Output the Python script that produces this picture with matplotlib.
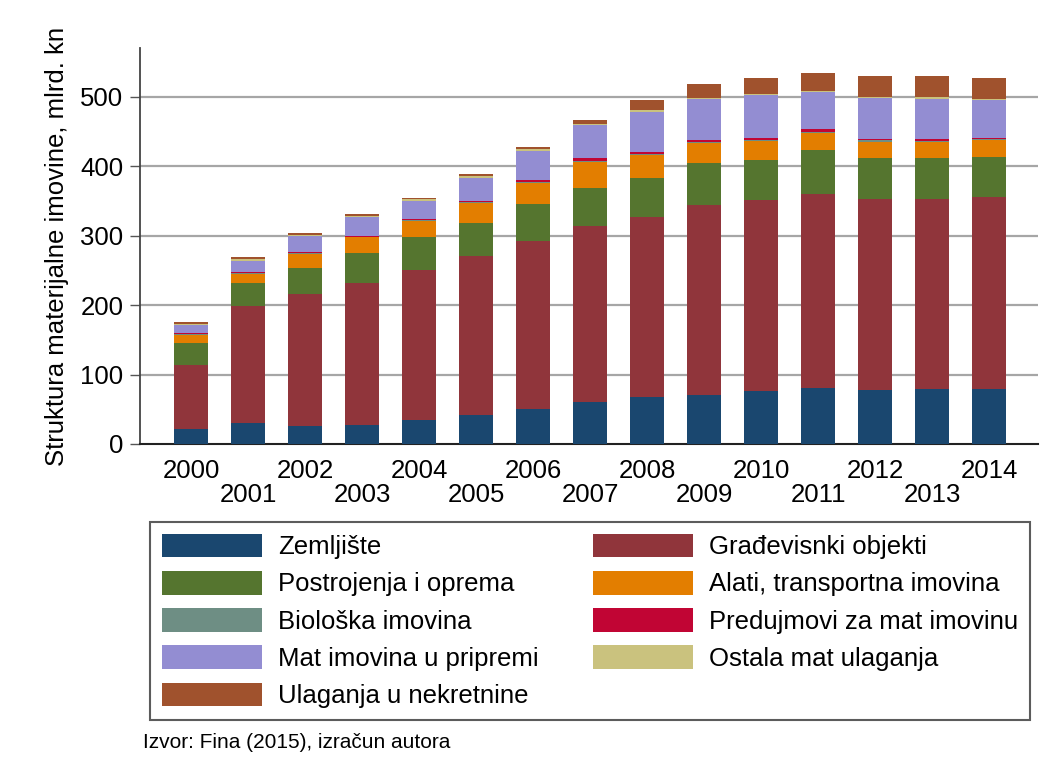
import matplotlib
matplotlib.use("Agg")
import matplotlib.pyplot as plt
import numpy as np

plt.rcParams["font.family"] = ["Liberation Sans", "DejaVu Sans"]

# Years and stacked components (mlrd. kn)
years = list(range(2000, 2015))

zemljiste = [22, 30, 26, 28, 34, 41, 50, 61, 67, 71, 76, 80, 78, 79, 79]
gradjevinski = [92, 168, 190, 203, 216, 229, 242, 253, 259, 273, 275, 280, 275, 274, 276]
postrojenja = [31, 34, 37, 44, 48, 48, 53, 55, 57, 60, 58, 63, 59, 59, 58]
alati = [12, 13, 21, 22.5, 23, 29.5, 31, 37.5, 33, 28.5, 27, 25, 23, 23, 25]
bioloska = [1, 1, 1, 1, 1, 1, 1, 1, 1.5, 1.5, 2, 1, 2.5, 1.5, 1]
predujmovi = [2, 1.5, 1, 1.5, 2, 1.5, 3, 4.5, 3, 3, 2, 4, 2, 2, 1.5]
u_pripremi = [11, 16, 23, 26.5, 25.5, 33, 41, 46.5, 57, 60, 62, 54, 58, 58, 54]
ostala = [2, 3, 2, 2, 2.5, 2.5, 3, 2.5, 3, 1.5, 2, 1.5, 2.5, 3, 2.5]
nekretnine = [3, 2.5, 2, 3, 2.5, 2.5, 4, 6, 14, 19, 23, 26, 29, 30, 29.5]

series_labels = [
    "Zemljište", "Građevisnki objekti", "Postrojenja i oprema",
    "Alati, transportna imovina", "Biološka imovina", "Predujmovi za mat imovinu",
    "Mat imovina u pripremi", "Ostala mat ulaganja", "Ulaganja u nekretnine",
]
series_values = [zemljiste, gradjevinski, postrojenja, alati, bioloska,
                 predujmovi, u_pripremi, ostala, nekretnine]
# Stata s2color palette
series_colors = ["#1a476f", "#90353b", "#55752f", "#e37e00", "#6e8e84",
                 "#c10534", "#938dd2", "#cac27e", "#a0522d"]

FS = 18.5

fig = plt.figure(figsize=(10.51, 7.80), dpi=100)
ax = fig.add_axes([0.1332, 0.4308, 0.8545, 0.5077])

x = np.arange(len(years))
bottom = np.zeros(len(years))
for vals, lab, col in zip(series_values, series_labels, series_colors):
    ax.bar(x, vals, width=0.6, bottom=bottom, color=col, label=lab,
           edgecolor="none", zorder=3)
    bottom += np.array(vals)

ax.set_xlim(-0.9, 14.86)
ax.set_ylim(0, 570)
ax.set_yticks([0, 100, 200, 300, 400, 500])
ax.tick_params(axis="y", labelsize=FS, length=7, width=1, color="#555555", pad=5)

# staggered year labels
ax.set_xticks(x)
xlabels = [str(y) if i % 2 == 0 else "\n" + str(y) for i, y in enumerate(years)]
ax.set_xticklabels(xlabels)
ax.tick_params(axis="x", labelsize=FS, length=0, pad=11)
for t in ax.get_xticklabels():
    t.set_linespacing(1.0)

for yv in [100, 200, 300, 400, 500]:
    ax.axhline(yv, color="#a6a6a6", lw=1.6, zorder=1)

ax.spines["top"].set_visible(False)
ax.spines["right"].set_visible(False)
ax.spines["left"].set_color("#444444")
ax.spines["left"].set_linewidth(1.3)
ax.spines["bottom"].set_color("#222222")
ax.spines["bottom"].set_linewidth(1.5)

ax.set_ylabel("Struktura materijalne imovine, mlrd. kn", fontsize=FS, labelpad=8)

# legend filled row by row, as in the original
handles, labels = ax.get_legend_handles_labels()
order = [0, 2, 4, 6, 8, 1, 3, 5, 7]
leg = fig.legend([handles[i] for i in order], [labels[i] for i in order],
                 ncol=2, loc="upper left",
                 bbox_to_anchor=(0.1427, 0.3308, 0.8373, 0.0), mode="expand",
                 fontsize=FS, frameon=True, fancybox=False,
                 handlelength=3.9, handleheight=1.05, handletextpad=0.62,
                 borderpad=0.45, labelspacing=0.45, borderaxespad=0.0)
leg.get_frame().set_edgecolor("#333333")
leg.get_frame().set_linewidth(1.5)

fig.text(143 / 1051, 1 - 743 / 780, "Izvor: Fina (2015), izračun autora",
         fontsize=15, ha="left", va="center")

fig.savefig("out.png", dpi=100)
